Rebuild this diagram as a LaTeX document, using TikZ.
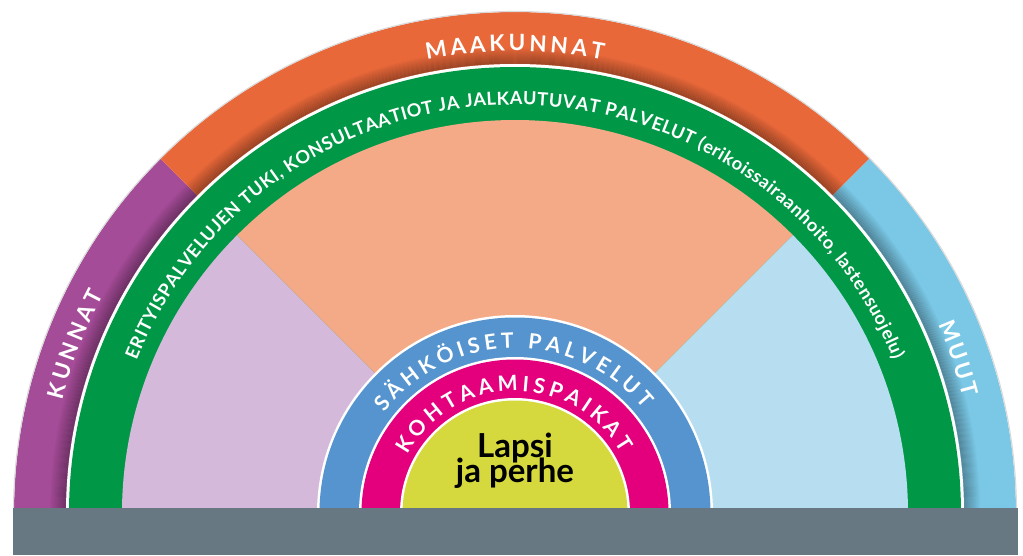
\documentclass[tikz,border=0pt]{standalone}
\usepackage{fontspec}
\setmainfont{Lato}
\usetikzlibrary{decorations.text}

\definecolor{kunnatc}{HTML}{A54C98}
\definecolor{maakunnatc}{HTML}{E8683A}
\definecolor{muutc}{HTML}{7AC8E6}
\definecolor{erityisc}{HTML}{009846}
\definecolor{kunnatl}{HTML}{D5B9DA}
\definecolor{maakunnatl}{HTML}{F4AA87}
\definecolor{muutl}{HTML}{B6DEF0}
\definecolor{sahkoc}{HTML}{5694CF}
\definecolor{kohtaamc}{HTML}{E4007D}
\definecolor{lapsic}{HTML}{D6D93D}
\definecolor{pohjac}{HTML}{687882}

\newcommand{\ringfont}{\bfseries\fontsize{16}{18}\selectfont}
\newcommand{\bandfont}{\bfseries\fontsize{12.9}{15}\selectfont}
\newcommand{\sahkofont}{\bfseries\fontsize{15}{17}\selectfont}
\newcommand{\kohtafont}{\bfseries\fontsize{15}{17}\selectfont}

\begin{document}
\begin{tikzpicture}[x=0.025cm,y=0.025cm,
  ringtext/.style={decorate,decoration={text along path,text align={fit to path},text color=white,text={#1}}}]
\useasboundingbox (-515,-42) rectangle (508,513);

% Outer sectors
\foreach \a/\b/\c in {180/135/kunnatc,135/45/maakunnatc,45/0/muutc}
  \fill[\c] (0,0) -- (\a:501) arc[start angle=\a,end angle=\b,radius=501] -- cycle;
\draw[gray!30,line width=0.8] (180:501.5) arc[start angle=180,end angle=0,radius=501.5];

% Shadow on the inner edge
\foreach \i in {0,...,15}{
  \pgfmathsetmacro\o{0.22*(1-\i/16)}
  \draw[black,opacity=\o,line width=1.05] (180:449.5+\i) arc[start angle=180,end angle=0,radius=449.5+\i];
}

% Green band
\fill[white] (0,0) -- (180:449) arc[start angle=180,end angle=0,radius=449] -- cycle;
\fill[erityisc] (0,0) -- (180:446) arc[start angle=180,end angle=0,radius=446] -- cycle;

% Inner sectors
\foreach \a/\b/\c in {180/135/kunnatl,135/45/maakunnatl,45/0/muutl}
  \fill[\c] (0,0) -- (\a:393) arc[start angle=\a,end angle=\b,radius=393] -- cycle;

% Center rings
\foreach \r/\c in {198/white,195.5/sahkoc,156/white,153.5/kohtaamc,115/white,112.5/lapsic}
  \fill[\c] (0,0) -- (180:\r) arc[start angle=180,end angle=0,radius=\r] -- cycle;

% Base
\fill[pohjac] (-502,-42) rectangle (503,5);

% Labels along the rings
\path[ringtext={|\ringfont|KUNNAT}] (166:466) arc[start angle=166,end angle=152,radius=466];
\path[ringtext={|\ringfont|MAAKUNNAT}] (101:462) arc[start angle=101,end angle=79,radius=462];
\path[ringtext={|\ringfont|MUUT}] (24:463) arc[start angle=24,end angle=14.5,radius=463];
\path[ringtext={|\bandfont|ERITYISPALVELUJEN TUKI, KONSULTAATIOT JA JALKAUTUVAT PALVELUT (erikoissairaanhoito, lastensuojelu)}]
  (158:408) arc[start angle=158,end angle=22,radius=408];
\path[ringtext={|\sahkofont|SÄHKÖISET PALVELUT}] (142.5:165) arc[start angle=142.5,end angle=39,radius=165];
\path[ringtext={|\kohtafont|KOHTAAMISPAIKAT}] (151.5:122) arc[start angle=151.5,end angle=29.5,radius=122];

\node[anchor=base,font=\bfseries\fontsize{23.5}{26}\selectfont] (lapsi) at (0,56) {Lapsi};
\node[anchor=base,font=\bfseries\fontsize{23.5}{26}\selectfont] (perhe) at (0,31) {ja perhe};

\end{tikzpicture}
\end{document}
